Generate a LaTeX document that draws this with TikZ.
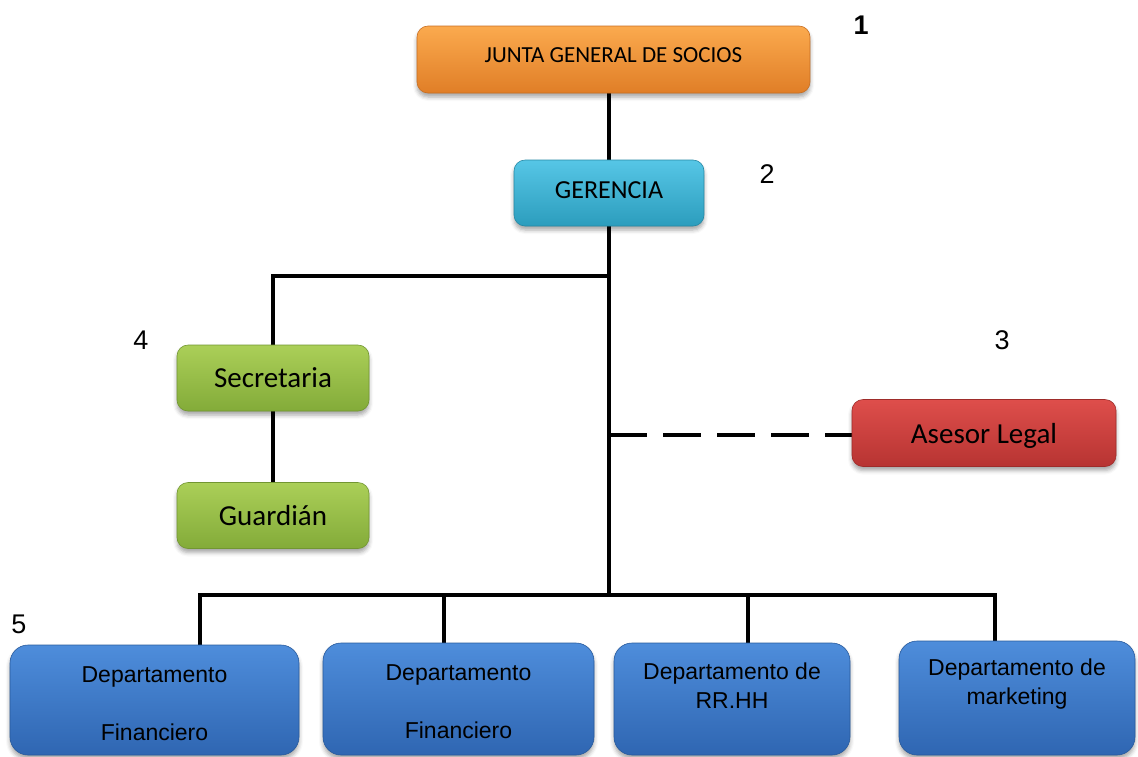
\documentclass[tikz,border=0pt]{standalone}
\usepackage{fontspec}
\setmainfont{Carlito}
\newfontfamily\arialfont{Liberation Sans}
\usetikzlibrary{shadows.blur}

% fill colours: top (T), bottom (B) and outline (D) of each box family
\definecolor{orT}{HTML}{FBAA4E}\definecolor{orB}{HTML}{E07E27}\definecolor{orD}{HTML}{C86E22}
\definecolor{cyT}{HTML}{56C6E6}\definecolor{cyB}{HTML}{2C9DBD}\definecolor{cyD}{HTML}{2688A4}
\definecolor{grT}{HTML}{ABCF58}\definecolor{grB}{HTML}{83AB39}\definecolor{grD}{HTML}{729632}
\definecolor{rdT}{HTML}{DE4E4B}\definecolor{rdB}{HTML}{B73432}\definecolor{rdD}{HTML}{9E2C2A}
\definecolor{blT}{HTML}{4E8DDB}\definecolor{blB}{HTML}{2F66B2}\definecolor{blD}{HTML}{285A9C}

\pgfdeclarelayer{bg}
\pgfsetlayers{bg,main}

\tikzset{
  box/.style={rectangle, rounded corners=11pt, inner sep=0pt,
    top color=#1T, bottom color=#1B, draw=#1D, line width=0.6pt,
    blur shadow={shadow xshift=0pt, shadow yshift=-4pt,
                 shadow blur radius=4pt, shadow opacity=35}},
  topbox/.style={box=#1, text depth=0pt},
  deptbox/.style={box=#1, rounded corners=18pt},
  depttext/.style={font=\arialfont\fontsize{23}{29}\selectfont, align=center, inner sep=0pt},
  levelnum/.style={font=\arialfont\fontsize{27}{30}\selectfont, inner sep=0pt},
  conn/.style={line width=4pt, line join=miter},
  dashconn/.style={line width=4pt, dash pattern=on 38pt off 16pt},
}

\begin{document}
\begin{tikzpicture}[x=1pt, y=-1pt]
\useasboundingbox (0,0) rectangle (1138,756);

% governing bodies
\node[topbox=or, text depth=9pt, minimum width=393pt, minimum height=67pt,
      font=\fontsize{23}{27}\selectfont] (junta) at (613.5,59.5) {JUNTA GENERAL DE SOCIOS};
\node[topbox=cy, text depth=6pt, minimum width=190pt, minimum height=66pt,
      font=\fontsize{26}{30}\selectfont] (ger) at (609,193) {GERENCIA};

% staff units
\node[topbox=gr, minimum width=192pt, minimum height=66pt,
      font=\fontsize{29}{33}\selectfont] (sec) at (273,378) {Secretaria};
\node[topbox=gr, minimum width=192pt, minimum height=66pt,
      font=\fontsize{29}{33}\selectfont] (guard) at (273,515.5) {Guardián};
\node[topbox=rd, minimum width=264pt, minimum height=67pt,
      font=\fontsize{29}{33}\selectfont] (ases) at (984,433) {Asesor Legal};

% departments
\node[deptbox=bl, minimum width=289pt, minimum height=110pt] (d1) at (154.5,700) {};
\node[deptbox=bl, minimum width=271pt, minimum height=112pt] (d2) at (458.5,699) {};
\node[deptbox=bl, minimum width=236pt, minimum height=112pt] (d3) at (732,699) {};
\node[deptbox=bl, minimum width=236pt, minimum height=114pt] (d4) at (1017,698) {};

\node[depttext] (d1t) at (154.5,704) {Departamento\\[29pt]Financiero};
\node[depttext] (d2t) at (458.5,702) {Departamento\\[29pt]Financiero};
\node[depttext] (d3t) at (732,686) {Departamento de\\RR.HH};
\node[depttext] (d4t) at (1017,684) {Departamento de\\marketing};

% hierarchy levels
\node[levelnum, font=\arialfont\bfseries\fontsize{27}{30}\selectfont] (n1) at (861,25) {1};
\node[levelnum] (n2) at (767,174) {2};
\node[levelnum] (n3) at (1002,340) {3};
\node[levelnum] (n4) at (141,340) {4};
\node[levelnum] (n5) at (19,624) {5};

% junction points on the main trunk
\coordinate (jsec) at (609,276);
\coordinate (jleg) at (609,435);
\coordinate (bus)  at (609,595);
\coordinate (b1) at (200,595);
\coordinate (b2) at (444,595);
\coordinate (b3) at (748,595);
\coordinate (b4) at (995,595);

\begin{pgfonlayer}{bg}
  \draw[conn] (junta.south -| ger.north) -- (ger.north);
  \draw[conn] (ger.south) -- (bus);
  \draw[conn] (jsec) -| (sec.north);
  \draw[conn] (sec.south) -- (guard.north);
  \draw[dashconn] (jleg) -- (jleg -| ases.west);
  \draw[conn] (b1 |- d1.north) -- (b1) -- (b4) -- (b4 |- d4.north);
  \draw[conn] (b2) -- (b2 |- d2.north);
  \draw[conn] (b3) -- (b3 |- d3.north);
\end{pgfonlayer}
\end{tikzpicture}
\end{document}
